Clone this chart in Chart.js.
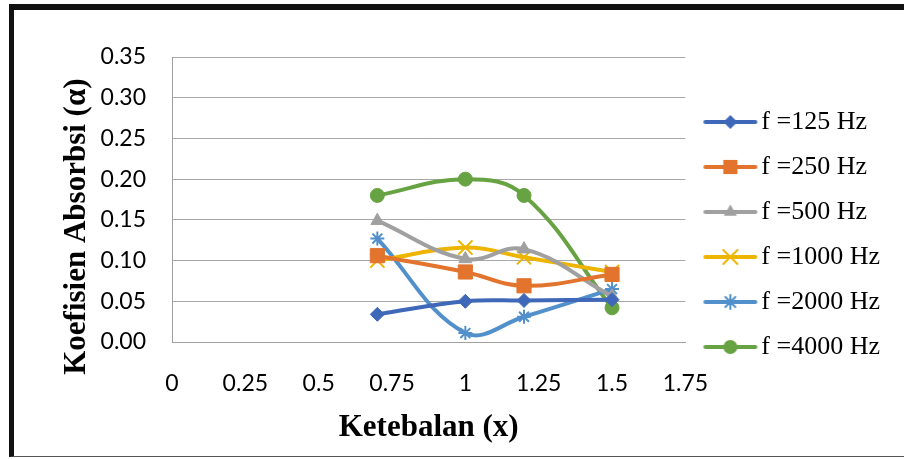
<!DOCTYPE html>
<html>
<head>
<meta charset="utf-8">
<script src="https://cdn.jsdelivr.net/npm/chart.js@4/dist/chart.umd.min.js"></script>
<style>
  html, body { margin: 0; padding: 0; background: #fff; }
  #wrap { position: relative; width: 904px; height: 459px; }
  #frame {
    position: absolute; left: 9px; top: 4px; width: 895px; height: 453px;
    box-sizing: border-box; pointer-events: none;
    border-top: 6px solid #111; border-left: 5px solid #111; border-bottom: 1px solid #555;
  }
</style>
</head>
<body>
<div id="wrap">
  <canvas id="chart" width="904" height="459"></canvas>
  <div id="frame"></div>
</div>
<script>
// thickness values on the x axis
const thickness = [0.7, 1, 1.2, 1.5];

// absorption coefficient for each frequency
const f125 = [0.034, 0.050, 0.051, 0.052];
const f250 = [0.106, 0.086, 0.069, 0.083];
const f500 = [0.149, 0.102, 0.114, 0.056];
const f1000 = [0.100, 0.116, 0.104, 0.086];
const f2000 = [0.127, 0.011, 0.031, 0.065];
const f4000 = [0.180, 0.200, 0.180, 0.042];

const seriesNames = ["f =125 Hz", "f =250 Hz", "f =500 Hz", "f =1000 Hz", "f =2000 Hz", "f =4000 Hz"];

const xTicks = [0, 0.25, 0.5, 0.75, 1, 1.25, 1.5, 1.75];
const xTickLabels = ["0", "0.25", "0.5", "0.75", "1", "1.25", "1.5", "1.75"];
const yTicks = [0, 0.05, 0.1, 0.15, 0.2, 0.25, 0.3, 0.35];
const yTickLabels = ["0.00", "0.05", "0.10", "0.15", "0.20", "0.25", "0.30", "0.35"];

const colors = ["#4068B8", "#E2742E", "#A0A0A0", "#EDB400", "#5290CC", "#67A343"];
const markers = [
  { style: "rectRot", radius: 7 },
  { style: "rect", radius: 10 },
  { style: "triangle", radius: 7.5 },
  { style: "crossRot", radius: 10 },
  { style: "star", radius: 7 },
  { style: "circle", radius: 7 },
];

// draw a marker the same way on the small legend canvases
function drawMarker(g, style, r, x, y) {
  g.beginPath();
  if (style === "rectRot") {
    g.moveTo(x - r, y); g.lineTo(x, y - r); g.lineTo(x + r, y); g.lineTo(x, y + r); g.closePath();
    g.fill();
  } else if (style === "rect") {
    const s = Math.SQRT1_2 * r;
    g.rect(x - s, y - s, 2 * s, 2 * s);
    g.fill();
  } else if (style === "triangle") {
    for (let k = 0; k < 3; k++) {
      const a = k * 2 * Math.PI / 3;
      const px = x + Math.sin(a) * r, py = y - Math.cos(a) * r;
      k === 0 ? g.moveTo(px, py) : g.lineTo(px, py);
    }
    g.closePath();
    g.fill();
  } else if (style === "crossRot") {
    const d = Math.SQRT1_2 * r;
    g.lineWidth = 2;
    g.moveTo(x - d, y - d); g.lineTo(x + d, y + d);
    g.moveTo(x - d, y + d); g.lineTo(x + d, y - d);
    g.stroke();
  } else if (style === "star") {
    const d = Math.SQRT1_2 * r;
    g.lineWidth = 2;
    g.moveTo(x, y - r); g.lineTo(x, y + r);
    g.moveTo(x - r, y); g.lineTo(x + r, y);
    g.moveTo(x - d, y - d); g.lineTo(x + d, y + d);
    g.moveTo(x - d, y + d); g.lineTo(x + d, y - d);
    g.stroke();
  } else {
    g.arc(x, y, r, 0, Math.PI * 2);
    g.fill();
  }
}

function legendSymbol(color, m) {
  const c = document.createElement("canvas");
  c.width = 64;
  c.height = 26;
  const g = c.getContext("2d");
  g.strokeStyle = color;
  g.fillStyle = color;
  g.lineWidth = 4;
  g.lineCap = "round";
  g.beginPath();
  g.moveTo(11, 13);
  g.lineTo(61, 13);
  g.stroke();
  drawMarker(g, m.style, m.radius, 36, 13);
  return c;
}

const allSeries = [f125, f250, f500, f1000, f2000, f4000];
const legendSymbols = allSeries.map((s, i) => legendSymbol(colors[i], markers[i]));

const datasets = allSeries.map((values, i) => ({
  label: seriesNames[i],
  data: thickness.map((x, j) => ({ x: x, y: values[j] })),
  borderColor: colors[i],
  backgroundColor: colors[i],
  borderWidth: 4,
  borderCapStyle: "round",
  tension: 0.4,
  fill: false,
  clip: false,
  pointStyle: markers[i].style,
  pointRadius: markers[i].radius,
  pointBackgroundColor: colors[i],
  pointBorderColor: colors[i],
  pointBorderWidth: markers[i].style === "star" || markers[i].style === "crossRot" ? 2 : 1,
}));

Chart.defaults.font.family = "Lato";
Chart.defaults.color = "#000";

const ctx = document.querySelector("#chart").getContext("2d");

new Chart(ctx, {
  type: "line",
  data: { datasets: datasets },
  options: {
    responsive: false,
    animation: false,
    layout: { padding: { left: 58, top: 10, right: 14, bottom: 0 } },
    plugins: {
      tooltip: { enabled: false },
      title: { display: true, text: "", font: { size: 10 }, padding: { top: 0, bottom: 35 } },
      legend: {
        position: "right",
        align: "center",
        labels: {
          usePointStyle: true,
          pointStyleWidth: 44,
          padding: 19,
          color: "#000",
          font: { family: "Liberation Serif", size: 26 },
          generateLabels: (chart) =>
            chart.data.datasets.map((ds, i) => ({
              text: ds.label,
              pointStyle: legendSymbols[i],
              datasetIndex: i,
              fillStyle: ds.borderColor,
              strokeStyle: ds.borderColor,
              lineWidth: 0,
              hidden: false,
              fontColor: "#000",
            })),
        },
      },
    },
    scales: {
      x: {
        type: "linear",
        min: 0,
        max: 1.75,
        afterBuildTicks: (s) => { s.ticks = xTicks.map((v) => ({ value: v })); },
        afterFit: (s) => { s.height = 117; },
        ticks: {
          callback: (v, i) => xTickLabels[i],
          font: { size: 23 },
          color: "#000",
          padding: 28,
          maxRotation: 0,
          autoSkip: false,
        },
        grid: { display: false, drawTicks: false },
        border: { display: true, color: "#A0A0A0", width: 1 },
        title: {
          display: true,
          text: "Ketebalan (x)",
          color: "#000",
          font: { family: "Liberation Serif", size: 31, weight: "bold" },
          padding: { top: 0, bottom: 12 },
        },
      },
      y: {
        min: 0,
        max: 0.35,
        afterBuildTicks: (s) => { s.ticks = yTicks.map((v) => ({ value: v })); },
        afterFit: (s) => { s.width = 114; },
        ticks: {
          callback: (v, i) => yTickLabels[i],
          font: { size: 23 },
          color: "#000",
          padding: 26,
        },
        grid: { color: "#A8A8A8", lineWidth: 1, drawTicks: false },
        border: { display: true, color: "#A0A0A0", width: 1 },
        title: {
          display: true,
          text: "Koefisien Absorbsi (α)\u00A0\u00A0\u00A0\u00A0\u00A0\u00A0\u00A0",
          color: "#000",
          font: { family: "Liberation Serif", size: 31, weight: "bold" },
          padding: { top: 0, bottom: 4 },
        },
      },
    },
  },
});
</script>
</body>
</html>
